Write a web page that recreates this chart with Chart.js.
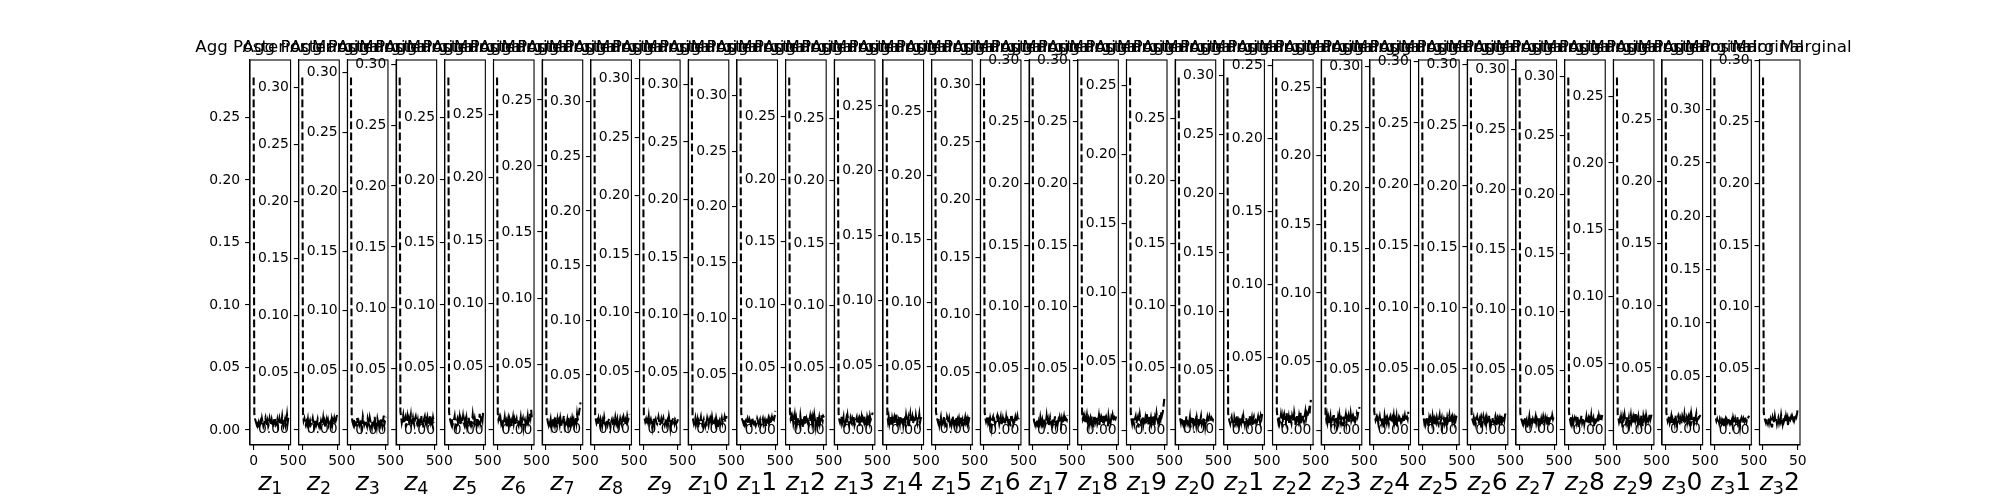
<!DOCTYPE html>
<html lang="pt-br">

<head>
    <meta charset="UTF-8">
    <title>Agg Posterior Marginal</title>
    <script src="https://cdn.jsdelivr.net/npm/chart.js"></script>
    <style>
        body { margin: 0; background: #fff; }
        #figura { position: absolute; left: 0; top: 0; }
        #oculto { position: absolute; left: 0; top: 0; visibility: hidden; }
    </style>
</head>

<body>
    <!-- Canvas final com a figura inteira; cada subplot é desenhado no canvas oculto e copiado -->
    <canvas id="figura" width="2000" height="500"></canvas>
    <div id="oculto"><canvas id="subplot" width="300" height="500"></canvas></div>

<script>
    // Valores (em milésimos), um array por dimensão latente
    const z1 = [282, 13, 9, 7, 5, 8, 4, 6, 2, 5, 7, 4, 9, 6, 3, 5, 8, 10, 6, 4, 7, 3, 5, 9, 6, 4, 8, 5, 2, 6, 10, 7, 4, 5, 8, 3, 6, 9, 5, 4, 7, 11, 6, 3, 5, 8, 4, 7, 12, 6, 10];
    const z2 = [309, 14, 8, 10, 6, 4, 7, 5, 9, 3, 6, 8, 4, 5, 7, 10, 6, 2, 5, 8, 4, 6, 9, 5, 3, 7, 4, 8, 6, 5, 10, 4, 7, 2, 6, 9, 5, 8, 4, 6, 7, 5, 9, 4, 8, 6, 10, 7, 5, 11, 13];
    const z3 = [296, 12, 7, 5, 9, 4, 6, 8, 3, 10, 5, 7, 4, 6, 9, 2, 5, 11, 7, 4, 6, 8, 5, 3, 9, 6, 4, 10, 7, 5, 2, 8, 6, 4, 11, 5, 7, 3, 9, 6, 4, 8, 5, 10, 6, 3, 7, 12, 5, 8, 11];
    const z4 = [289, 15, 11, 6, 9, 12, 5, 8, 10, 2, 7, 11, 6, 9, 4, 8, 12, 5, 7, 10, 6, 4, 9, 11, 7, 5, 8, 3, 10, 6, 9, 12, 5, 7, 2, 9, 11, 6, 8, 5, 10, 7, 4, 9, 12, 6, 8, 5, 10, 7, 6];
    const z5 = [282, 14, 10, 7, 5, 9, 4, 6, 8, 11, 5, 2, 7, 9, 5, 6, 10, 4, 8, 5, 7, 11, 6, 4, 8, 5, 9, 3, 6, 10, 7, 5, 8, 4, 6, 12, 7, 5, 9, 6, 4, 8, 10, 5, 7, 13, 6, 9, 11, 8, 15];
    const z6 = [279, 13, 8, 10, 6, 9, 5, 7, 4, 8, 6, 10, 5, 7, 2, 6, 9, 4, 8, 5, 7, 3, 6, 10, 5, 8, 4, 7, 9, 5, 6, 4, 8, 6, 10, 5, 7, 9, 2, 6, 8, 5, 9, 7, 11, 6, 8, 13, 10, 16, 9];
    const z7 = [267, 12, 9, 6, 4, 7, 5, 8, 3, 6, 9, 5, 7, 4, 10, 6, 2, 8, 5, 7, 4, 9, 6, 3, 5, 8, 11, 4, 7, 6, 5, 8, 4, 10, 6, 2, 7, 5, 9, 6, 8, 4, 7, 10, 6, 12, 8, 9, 14, 17, 21];
    const z8 = [322, 14, 9, 6, 8, 5, 10, 7, 4, 9, 6, 3, 8, 5, 11, 7, 4, 6, 9, 5, 8, 10, 6, 2, 7, 9, 5, 3, 8, 6, 11, 7, 5, 9, 4, 8, 6, 10, 7, 5, 9, 6, 11, 8, 5, 9, 7, 12, 8, 10, 14];
    const z9 = [301, 13, 10, 7, 9, 5, 8, 6, 11, 4, 7, 9, 6, 2, 8, 10, 4, 7, 9, 6, 5, 8, 11, 7, 4, 6, 9, 5, 8, 10, 6, 4, 7, 9, 5, 8, 6, 11, 7, 2, 9, 6, 8, 10, 7, 5, 9, 8, 6, 7, 9];
    const z10 = [306, 12, 8, 5, 7, 10, 4, 6, 9, 2, 7, 5, 8, 11, 6, 4, 7, 9, 5, 3, 8, 6, 10, 7, 4, 8, 5, 9, 6, 11, 7, 4, 6, 8, 5, 10, 7, 2, 9, 6, 8, 5, 7, 10, 6, 9, 8, 11, 7, 9, 12];
    const z11 = [316, 15, 10, 8, 6, 9, 5, 7, 4, 8, 10, 6, 5, 9, 7, 2, 8, 11, 6, 5, 9, 7, 4, 6, 10, 8, 5, 7, 9, 4, 6, 8, 10, 5, 7, 9, 6, 3, 8, 7, 10, 6, 9, 5, 8, 11, 7, 10, 9, 12, 17];
    const z12 = [281, 14, 9, 11, 7, 10, 5, 8, 12, 6, 9, 4, 7, 10, 8, 5, 11, 6, 9, 7, 2, 8, 12, 6, 5, 9, 7, 10, 4, 8, 11, 6, 9, 5, 10, 7, 12, 8, 3, 9, 6, 11, 7, 10, 5, 8, 12, 9, 7, 11, 10];
    const z13 = [283, 13, 8, 6, 9, 11, 5, 7, 10, 2, 8, 6, 9, 5, 11, 7, 4, 8, 10, 6, 5, 9, 7, 11, 4, 6, 8, 10, 5, 7, 9, 3, 8, 6, 10, 5, 9, 7, 11, 6, 8, 5, 10, 7, 9, 6, 11, 8, 10, 12, 14];
    const z14 = [272, 12, 7, 10, 5, 8, 11, 4, 9, 6, 8, 10, 5, 7, 12, 6, 2, 9, 8, 5, 11, 7, 6, 10, 4, 8, 9, 5, 11, 7, 6, 9, 3, 8, 12, 6, 7, 10, 5, 9, 8, 6, 11, 7, 5, 10, 8, 12, 6, 9, 10];
    const z15 = [277, 14, 11, 8, 6, 9, 4, 7, 10, 5, 8, 6, 9, 11, 5, 7, 2, 10, 8, 6, 9, 5, 7, 4, 8, 11, 6, 9, 5, 7, 10, 4, 8, 6, 9, 5, 7, 11, 6, 8, 3, 9, 7, 10, 6, 8, 5, 9, 7, 10, 12];
    const z16 = [306, 15, 10, 7, 9, 12, 6, 8, 5, 10, 7, 2, 9, 11, 6, 8, 5, 7, 10, 12, 6, 9, 5, 8, 11, 4, 7, 10, 6, 9, 8, 5, 11, 7, 9, 6, 10, 8, 3, 12, 7, 9, 6, 10, 8, 11, 7, 9, 12, 8, 10];
    const z17 = [286, 13, 7, 5, 8, 4, 6, 9, 2, 7, 5, 10, 6, 4, 8, 5, 7, 9, 4, 6, 11, 5, 8, 3, 7, 10, 6, 4, 9, 5, 8, 6, 11, 4, 7, 9, 5, 8, 6, 10, 7, 4, 9, 6, 8, 11, 7, 10, 9, 8, 12];
    const z18 = [286, 14, 9, 11, 6, 10, 5, 8, 12, 7, 9, 4, 8, 10, 6, 11, 7, 2, 9, 12, 6, 8, 10, 5, 7, 11, 4, 9, 6, 10, 8, 5, 12, 7, 9, 6, 10, 8, 3, 11, 7, 9, 6, 10, 8, 12, 9, 7, 10, 9, 11];
    const z19 = [256, 12, 8, 5, 9, 6, 4, 8, 10, 5, 7, 9, 2, 6, 11, 7, 5, 8, 10, 4, 7, 6, 9, 5, 12, 8, 4, 7, 10, 6, 9, 5, 8, 11, 6, 3, 9, 7, 12, 8, 6, 10, 7, 12, 9, 14, 11, 13, 17, 22, 25];
    const z20 = [283, 13, 9, 6, 10, 7, 5, 9, 4, 8, 6, 11, 7, 5, 9, 6, 10, 2, 8, 7, 11, 5, 9, 6, 8, 4, 10, 7, 5, 9, 6, 8, 11, 5, 7, 10, 6, 9, 3, 8, 7, 10, 6, 9, 11, 7, 8, 10, 9, 8, 11];
    const z21 = [298, 14, 10, 7, 5, 9, 11, 6, 8, 2, 10, 7, 5, 9, 12, 6, 8, 4, 7, 10, 6, 9, 5, 11, 7, 4, 8, 10, 6, 9, 5, 8, 12, 6, 7, 10, 3, 9, 11, 7, 8, 6, 10, 8, 11, 7, 9, 6, 12, 10, 14];
    const z22 = [242, 13, 9, 6, 10, 5, 7, 11, 8, 2, 9, 6, 10, 7, 5, 12, 8, 6, 9, 4, 11, 7, 5, 10, 8, 6, 12, 9, 3, 7, 11, 8, 6, 10, 7, 12, 5, 9, 11, 8, 6, 10, 13, 8, 11, 9, 12, 14, 11, 17, 21];
    const z23 = [257, 12, 8, 11, 6, 9, 5, 7, 10, 2, 8, 9, 6, 11, 5, 8, 10, 7, 4, 9, 6, 11, 7, 5, 9, 8, 3, 10, 6, 8, 11, 5, 9, 7, 10, 6, 8, 12, 7, 9, 6, 10, 8, 11, 7, 9, 12, 10, 13, 15, 17];
    const z24 = [291, 15, 11, 8, 10, 6, 9, 5, 8, 11, 7, 9, 6, 10, 8, 2, 11, 7, 9, 6, 10, 8, 5, 9, 11, 7, 6, 10, 8, 12, 6, 9, 7, 11, 3, 8, 10, 6, 9, 7, 11, 8, 10, 6, 9, 12, 8, 10, 11, 9, 15];
    const z25 = [287, 14, 10, 6, 9, 5, 8, 11, 7, 2, 9, 6, 10, 8, 5, 11, 7, 9, 4, 8, 6, 10, 7, 5, 9, 12, 6, 8, 10, 3, 7, 9, 6, 11, 8, 5, 10, 7, 9, 12, 6, 8, 10, 7, 11, 9, 6, 10, 8, 11, 12];
    const z26 = [289, 13, 9, 7, 10, 6, 8, 5, 9, 11, 7, 5, 8, 10, 6, 9, 2, 7, 11, 8, 6, 9, 5, 10, 7, 8, 12, 6, 9, 5, 8, 10, 7, 6, 9, 11, 3, 8, 10, 7, 9, 6, 10, 8, 12, 7, 9, 11, 8, 12, 14];
    const z27 = [293, 14, 10, 8, 6, 9, 5, 7, 10, 6, 8, 2, 9, 7, 11, 5, 8, 10, 6, 9, 7, 5, 8, 11, 6, 9, 7, 4, 10, 8, 6, 9, 5, 7, 11, 8, 6, 10, 7, 9, 3, 8, 11, 7, 9, 10, 8, 12, 9, 11, 13];
    const z28 = [299, 15, 10, 7, 11, 6, 9, 5, 8, 10, 7, 9, 6, 11, 8, 2, 10, 7, 9, 12, 6, 8, 10, 5, 9, 7, 11, 6, 8, 10, 5, 9, 7, 12, 6, 8, 10, 3, 9, 11, 7, 8, 10, 7, 12, 9, 8, 11, 10, 13, 15];
    const z29 = [264, 12, 9, 6, 8, 5, 10, 7, 2, 9, 6, 11, 7, 5, 8, 10, 6, 9, 4, 7, 11, 6, 8, 10, 5, 9, 7, 12, 6, 8, 5, 10, 7, 9, 6, 11, 8, 3, 10, 7, 9, 6, 11, 8, 10, 7, 9, 12, 8, 10, 13];
    const z30 = [284, 14, 10, 7, 9, 12, 6, 8, 11, 5, 9, 7, 10, 6, 12, 8, 2, 9, 11, 7, 6, 10, 8, 5, 11, 9, 6, 12, 7, 8, 10, 6, 9, 11, 7, 10, 3, 12, 8, 9, 6, 11, 8, 10, 13, 7, 9, 12, 10, 11, 12];
    const z31 = [330, 15, 11, 8, 10, 7, 9, 6, 10, 8, 6, 9, 7, 11, 2, 8, 10, 6, 9, 7, 11, 8, 6, 10, 7, 9, 5, 11, 8, 6, 10, 7, 9, 12, 6, 8, 10, 3, 9, 11, 8, 6, 10, 8, 12, 9, 7, 11, 10, 12, 13];
    const z32 = [286, 14, 10, 8, 6, 9, 7, 5, 8, 10, 6, 9, 7, 2, 10, 8, 6, 11, 7, 9, 5, 8, 10, 6, 9, 7, 12, 8, 5, 10, 7, 9, 6, 11, 8, 10, 3, 12, 9, 8, 10, 7, 11, 9, 12, 8, 10, 13, 11, 14, 18];

    const series = [z1, z2, z3, z4, z5, z6, z7, z8, z9, z10, z11, z12, z13, z14, z15, z16,
        z17, z18, z19, z20, z21, z22, z23, z24, z25, z26, z27, z28, z29, z30, z31, z32];

    // Rótulos do eixo x (mathtext do original: z com o primeiro dígito subscrito)
    const rotulosX = ['z_1', 'z_2', 'z_3', 'z_4', 'z_5', 'z_6', 'z_7', 'z_8', 'z_9', 'z_10',
        'z_11', 'z_12', 'z_13', 'z_14', 'z_15', 'z_16', 'z_17', 'z_18', 'z_19', 'z_20',
        'z_21', 'z_22', 'z_23', 'z_24', 'z_25', 'z_26', 'z_27', 'z_28', 'z_29', 'z_30',
        'z_31', 'z_32'];
    const titulo = 'Agg Posterior Marginal';
    const ticksX = [0, 50];
    const ticksY = [0, 0.05, 0.10, 0.15, 0.20, 0.25, 0.30, 0.35];

    // Geometria da figura (subplots 1x32 do matplotlib)
    const esquerda = 250, topo = 60, base = 445;
    const larguraEixo = 1550 / 38.2;
    const passo = larguraEixo * 1.2;
    const larguraCanvas = 300;
    // os títulos no original ficam um pouco mais juntos que os eixos
    const tituloInicio = 289.5, tituloPasso = 47.35;

    // Plugin para moldura, título e rótulo do eixo x
    const textos = {
        id: 'textos',
        afterDraw(chart, args, opts) {
            const ctx = chart.ctx;
            const a = chart.chartArea;
            const cx = (a.left + a.right) / 2;
            ctx.save();
            ctx.strokeStyle = '#000';
            ctx.lineWidth = 1.1;
            ctx.strokeRect(a.left, a.top, a.right - a.left, a.bottom - a.top);

            ctx.fillStyle = '#000';
            ctx.textBaseline = 'alphabetic';
            ctx.textAlign = 'center';
            ctx.font = '16.67px "DejaVu Sans"';
            ctx.fillText(opts.titulo, opts.tituloX, 52.2);

            // z_1 -> z + subscrito "1" + resto
            const partes = opts.rotulo.split('_');
            const sub = partes[1].charAt(0);
            const resto = partes[1].slice(1);
            const fZ = 'oblique 25px "DejaVu Sans"';
            const fSub = '17.5px "DejaVu Sans"';
            const fNormal = '25px "DejaVu Sans"';
            ctx.font = fZ; const wZ = ctx.measureText(partes[0]).width;
            ctx.font = fSub; const wS = ctx.measureText(sub).width;
            ctx.font = fNormal; const wR = resto ? ctx.measureText(resto).width : 0;
            let x = cx - (wZ + wS + wR) / 2;
            const y = 490;
            ctx.textAlign = 'left';
            ctx.font = fZ; ctx.fillText(partes[0], x, y); x += wZ;
            ctx.font = fSub; ctx.fillText(sub, x, y + 4.3); x += wS;
            if (resto) { ctx.font = fNormal; ctx.fillText(resto, x, y); }
            ctx.restore();
        }
    };

    const figura = document.getElementById('figura');
    const ctxFigura = figura.getContext('2d');
    ctxFigura.fillStyle = '#fff';
    ctxFigura.fillRect(0, 0, figura.width, figura.height);
    const canvas = document.getElementById('subplot');

    series.forEach(function (serie, i) {
        const centro = esquerda + i * passo + larguraEixo / 2;
        const canvasLeft = Math.round(centro) - larguraCanvas / 2;
        const areaLeft = centro - larguraEixo / 2 - canvasLeft;
        const areaRight = areaLeft + larguraEixo;

        const valores = serie.map(v => v / 1000);
        const dMin = Math.min(...valores);
        const dMax = Math.max(...valores);
        const margem = 0.05 * (dMax - dMin);
        const yMin = dMin - margem;
        const yMax = dMax + margem;

        const fonteTick = { family: 'DejaVu Sans', size: 13.9 };

        const grafico = new Chart(canvas, {
            type: 'line',
            data: {
                datasets: [{
                    data: valores.map((v, k) => ({ x: k, y: v })),
                    borderColor: '#000',
                    borderWidth: 2.08,
                    borderDash: [7.7, 3.3],
                    pointRadius: 0,
                    fill: false,
                    tension: 0,
                    clip: false
                }]
            },
            options: {
                responsive: false,
                animation: false,
                devicePixelRatio: 1,
                layout: {
                    padding: { left: 0, right: larguraCanvas - areaRight, top: topo, bottom: 0 }
                },
                plugins: {
                    legend: { display: false },
                    tooltip: { enabled: false },
                    textos: {
                        titulo: titulo,
                        tituloX: tituloInicio + i * tituloPasso - canvasLeft,
                        rotulo: rotulosX[i]
                    }
                },
                scales: {
                    x: {
                        type: 'linear',
                        min: -5.2,
                        max: 53.1,
                        afterBuildTicks: s => { s.ticks = ticksX.map(v => ({ value: v })); },
                        afterFit: s => { s.height = 500 - base; },
                        ticks: {
                            autoSkip: false, maxRotation: 0, color: '#000', font: fonteTick, padding: 3,
                            callback: v => String(v)
                        },
                        grid: { drawOnChartArea: false, tickLength: 4.9, color: '#000', lineWidth: 1.1 },
                        border: { display: true, color: '#000', width: 1.1 }
                    },
                    y: {
                        min: yMin,
                        max: yMax,
                        afterBuildTicks: s => {
                            s.ticks = ticksY.filter(v => v >= yMin && v <= yMax).map(v => ({ value: v }));
                        },
                        afterFit: s => { s.width = areaLeft; },
                        ticks: {
                            color: '#000', font: fonteTick, padding: 4.9,
                            callback: v => v.toFixed(2)
                        },
                        grid: { drawOnChartArea: false, tickLength: 4.9, color: '#000', lineWidth: 1.1 },
                        border: { display: true, color: '#000', width: 1.1 }
                    }
                }
            },
            plugins: [textos]
        });

        // redesenha uma vez (recalcula o caminho da linha) antes de copiar para a figura
        grafico.update('none');
        ctxFigura.drawImage(canvas, canvasLeft, 0);
        grafico.destroy();
    });
</script>
</body>

</html>
